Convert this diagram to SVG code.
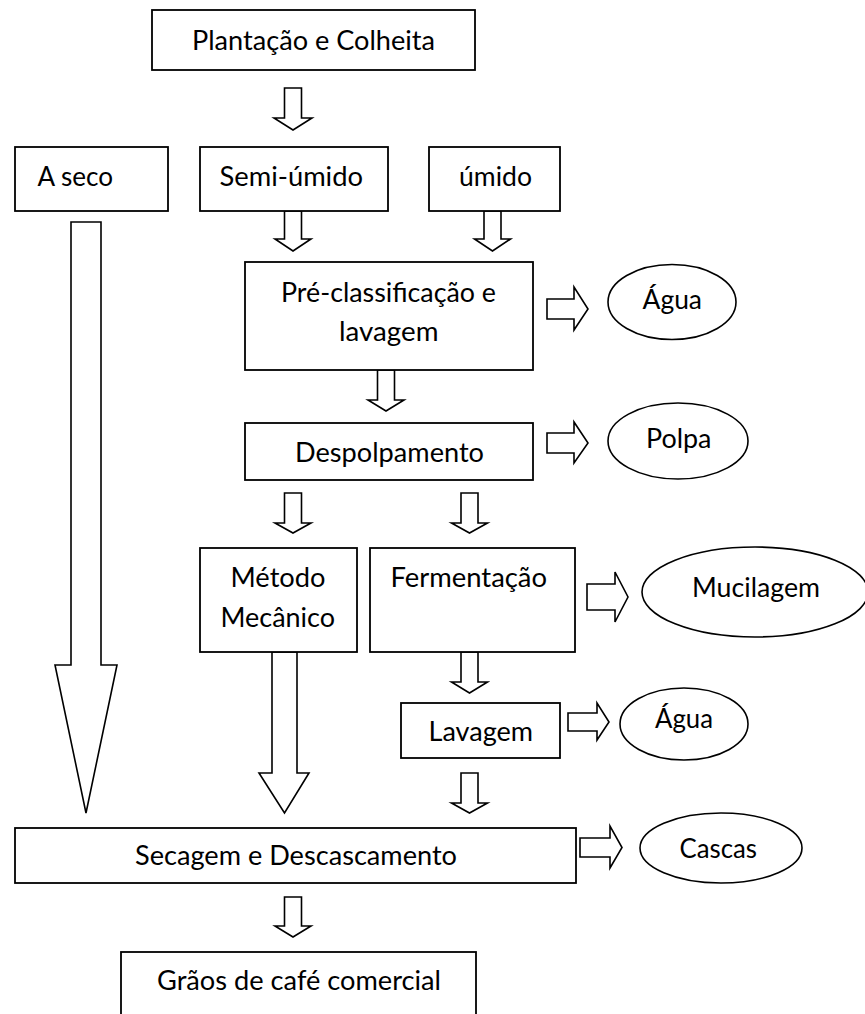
<svg xmlns="http://www.w3.org/2000/svg" width="865" height="1014" viewBox="0 0 865 1014">
<style>
.box{fill:#fff;stroke:#000;stroke-width:1.8}
.ell{fill:#fff;stroke:#000;stroke-width:1.6}
.arr{fill:#fff;stroke:#000;stroke-width:1.6;stroke-linejoin:miter}
text{font-family:Lato,"Liberation Sans",sans-serif;font-size:26px;fill:#000}
</style>
<rect width="865" height="1014" fill="#fff"/>
<g id="connectors">
<polygon class="arr" points="284.5,88 301.5,88 301.5,118 312,118 293,130 274,118 284.5,118"/>
<polygon class="arr" points="284.5,211 301.5,211 301.5,239 311,239 293,251 275,239 284.5,239"/>
<polygon class="arr" points="484,211 501,211 501,239 510.5,239 492.5,251 474.5,239 484,239"/>
<polygon class="arr" points="377.5,370 394.5,370 394.5,400 404,400 386,411 368,400 377.5,400"/>
<polygon class="arr" points="284.5,493 301.5,493 301.5,523 311,523 293,533 275,523 284.5,523"/>
<polygon class="arr" points="461,493 478,493 478,523 487.5,523 469.5,533 451.5,523 461,523"/>
<polygon class="arr" points="461,652 478,652 478,682 487.5,682 469.5,693 451.5,682 461,682"/>
<polygon class="arr" points="461,773 478,773 478,803 487.5,803 469.5,813 451.5,803 461,803"/>
<polygon class="arr" points="284.5,897 301.5,897 301.5,926 311,926 293,937 275,926 284.5,926"/>
<polygon class="arr" points="71,222 101,222 101,665 117,665 86,813 55,665 71,665"/>
<polygon class="arr" points="272,652 297,652 297,773 309,773 284.5,813 259,773 272,773"/>
<polygon class="arr" points="547,299 574,299 574,287 588,309 574,330 574,319 547,319"/>
<polygon class="arr" points="547,433 574,433 574,422 588,443 574,463 574,453 547,453"/>
<polygon class="arr" points="587,584 615,584 615,572 628,597 615,622 615,610 587,610"/>
<polygon class="arr" points="568,713 597,713 597,703 609,722 597,740 597,731 568,731"/>
<polygon class="arr" points="580,838 610,838 610,826 622,847.5 610,868 610,857 580,857"/>
</g>
<g id="plantacao"><rect class="box" x="152" y="10" width="323" height="60"/><text x="192" y="50" textLength="243" lengthAdjust="spacingAndGlyphs">Plantação e Colheita</text></g>
<g id="aseco"><rect class="box" x="15" y="147" width="153" height="64"/><text x="37.5" y="186" textLength="75.5" lengthAdjust="spacingAndGlyphs">A seco</text></g>
<g id="semiumido"><rect class="box" x="200" y="147" width="188" height="64"/><text x="219.5" y="186" textLength="143.5" lengthAdjust="spacingAndGlyphs">Semi-úmido</text></g>
<g id="umido"><rect class="box" x="429" y="147" width="131" height="64"/><text x="459" y="186" textLength="73" lengthAdjust="spacingAndGlyphs">úmido</text></g>
<g id="preclass"><rect class="box" x="245" y="262" width="288" height="108"/><text x="281" y="302" textLength="215" lengthAdjust="spacingAndGlyphs">Pré-classificação e</text><text x="339" y="341" textLength="99.5" lengthAdjust="spacingAndGlyphs">lavagem</text></g>
<g id="agua1"><ellipse class="ell" cx="672" cy="302" rx="64" ry="37.5"/><text x="642.5" y="309" textLength="59.5" lengthAdjust="spacingAndGlyphs">Água</text></g>
<g id="despolpamento"><rect class="box" x="245" y="423" width="288" height="57"/><text x="295" y="462" textLength="189" lengthAdjust="spacingAndGlyphs">Despolpamento</text></g>
<g id="polpa"><ellipse class="ell" cx="678" cy="441" rx="70" ry="38"/><text x="646" y="448" textLength="65.5" lengthAdjust="spacingAndGlyphs">Polpa</text></g>
<g id="metodo"><rect class="box" x="200" y="548" width="157" height="104"/><text x="230.5" y="587" textLength="95" lengthAdjust="spacingAndGlyphs">Método</text><text x="220.5" y="627" textLength="114.5" lengthAdjust="spacingAndGlyphs">Mecânico</text></g>
<g id="fermentacao"><rect class="box" x="370" y="548" width="205" height="104"/><text x="390.5" y="587" textLength="156.5" lengthAdjust="spacingAndGlyphs">Fermentação</text></g>
<g id="mucilagem"><ellipse class="ell" cx="755" cy="592" rx="113" ry="45"/><text x="692" y="597" textLength="128" lengthAdjust="spacingAndGlyphs">Mucilagem</text></g>
<g id="lavagem"><rect class="box" x="401" y="703" width="159" height="55"/><text x="428.5" y="741" textLength="104.5" lengthAdjust="spacingAndGlyphs">Lavagem</text></g>
<g id="agua2"><ellipse class="ell" cx="684" cy="724" rx="64" ry="36"/><text x="655" y="728" textLength="58" lengthAdjust="spacingAndGlyphs">Água</text></g>
<g id="secagem"><rect class="box" x="15" y="828" width="561" height="55"/><text x="135" y="865" textLength="322" lengthAdjust="spacingAndGlyphs">Secagem e Descascamento</text></g>
<g id="cascas"><ellipse class="ell" cx="721" cy="848" rx="81" ry="35"/><text x="679.5" y="858" textLength="77.5" lengthAdjust="spacingAndGlyphs">Cascas</text></g>
<g id="graos"><rect class="box" x="121" y="952" width="355" height="80"/><text x="157" y="990" textLength="284" lengthAdjust="spacingAndGlyphs">Grãos de café comercial</text></g>
</svg>
